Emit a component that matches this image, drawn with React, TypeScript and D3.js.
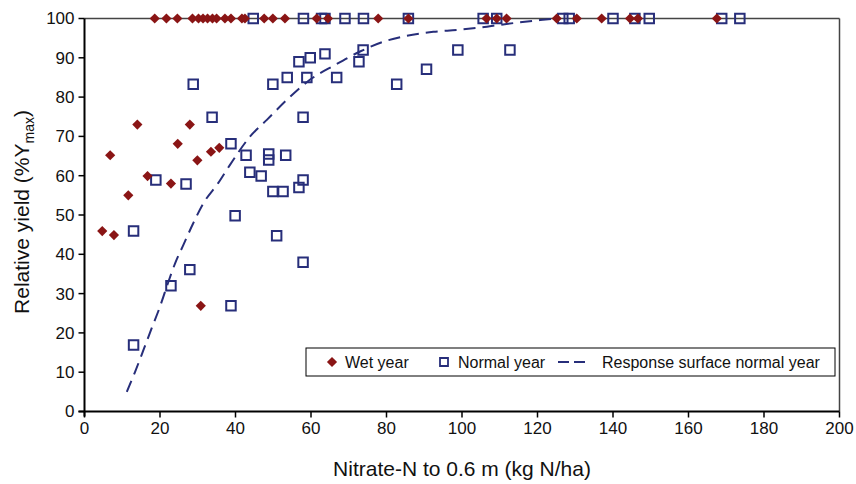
import React from "react";
import * as d3 from "d3";

const wetX = [4.7, 7.8, 6.8, 11.6, 14, 16.7, 22.9, 24.7, 27.9, 29.9, 30.8, 33.5, 35.7,
  18.6, 21.7, 24.6, 28.6, 30.2, 31.4, 32.6, 33.9, 35, 37.2, 38.8, 41.7, 42.5, 47.6, 49.9, 53.1,
  61.5, 64.5, 77.8, 85.8, 106.5, 109.2, 111.8, 125.1, 130.4, 137, 144.5, 146.6, 167.5];
const wetY = [45.9, 44.9, 65.2, 55, 73, 59.9, 58, 68.1, 73, 63.9, 26.9, 66.1, 67.1,
  100, 100, 100, 100, 100, 100, 100, 100, 100, 100, 100, 100, 100, 100, 100, 100,
  100, 100, 100, 100, 100, 100, 100, 100, 100, 100, 100, 100, 100];

const normalX = [13, 13, 18.9, 22.9, 26.9, 27.9, 28.8, 33.8, 38.8, 38.8, 39.9, 42.8, 43.8, 46.8,
  48.8, 48.8, 49.9, 49.9, 52.6, 50.9, 53.3, 53.7, 56.8, 56.8, 57.9, 57.9, 57.9, 58.9, 59.8,
  63.7, 66.8, 72.7, 73.8, 82.7, 90.6, 98.9, 112.7,
  44.7, 58, 62.8, 63.7, 69, 73.9, 85.8, 105.6, 109.2, 126.7, 128.4, 140, 145.8, 149.6, 168.8, 173.6];
const normalY = [16.9, 45.9, 58.9, 32, 57.9, 36.1, 83.3, 74.9, 26.9, 68.1, 49.8, 65.2, 60.9, 59.9,
  65.5, 64, 83.3, 56, 56, 44.7, 65.2, 85, 89, 57, 58.9, 74.9, 38, 85, 90,
  91, 85, 89, 92, 83.3, 87.1, 92, 92,
  100, 100, 100, 100, 100, 100, 100, 100, 100, 100, 100, 100, 100, 100, 100, 100];

const curveX = [11.2, 13.4, 15.6, 17.8, 20, 21.8, 24, 26.2, 28.8, 31.5, 35.4, 38.5, 43.8, 48.3,
  53.6, 59.7, 66.4, 73, 79.2, 85.4, 92.4, 98.6, 104.8, 110.9, 120.7, 125];
const curveY = [5, 10.1, 15.6, 21.2, 26.7, 31.8, 37.7, 42.4, 47.9, 53, 58.1, 62.7, 69.9, 74.2,
  79.3, 84.4, 88.2, 91.6, 94.1, 95.6, 96.6, 97.1, 97.7, 98.5, 99.6, 100];

const xTicks = [0, 20, 40, 60, 80, 100, 120, 140, 160, 180, 200];
const yTicks = [0, 10, 20, 30, 40, 50, 60, 70, 80, 90, 100];

const W = 856, H = 484;
const M = { left: 84.5, right: 16.5, top: 18.5, bottom: 72.5 };
const NAVY = "#272E7A";
const RED = "#8A1515";
const FONT = "'Liberation Sans', Arial, Helvetica, sans-serif";

export default function App() {
  const x = d3.scaleLinear().domain([0, 200]).range([M.left, W - M.right]);
  const y = d3.scaleLinear().domain([0, 100]).range([H - M.bottom, M.top]);
  const diamond = d3.symbol().type(d3.symbolSquare).size(52)()!;
  const square = d3.symbol().type(d3.symbolSquare).size(90)()!;
  const line = d3.line<number>().x((_, i) => x(curveX[i])).y((_, i) => y(curveY[i])).curve(d3.curveMonotoneX);
  const curvePath = line(curveX)!;
  const x0 = x(0), x1 = x(200), y0 = y(0), y1 = y(100);

  const legY = 362;
  return (
    <svg width={W} height={H} style={{ position: "absolute", left: 0, top: 0, background: "#fff" }} fontFamily={FONT}>
      <rect x={0} y={0} width={W} height={H} fill="#fff" />
      {/* frame top/right */}
      <line x1={x0} x2={x1} y1={y1} y2={y1} stroke="#444" strokeWidth={1.5} />
      <line x1={x1} x2={x1} y1={y1} y2={y0} stroke="#444" strokeWidth={1.5} />
      {/* normal year squares */}
      {normalX.map((v, i) => (
        <path key={"n" + i} d={square} transform={`translate(${x(v)},${y(normalY[i])})`} fill="none" stroke={NAVY} strokeWidth={2} />
      ))}
      {/* wet year diamonds */}
      {wetX.map((v, i) => (
        <path key={"w" + i} d={diamond} transform={`translate(${x(v)},${y(wetY[i])}) rotate(45)`} fill={RED} />
      ))}
      {/* response curve */}
      <path d={curvePath} fill="none" stroke={NAVY} strokeWidth={2} strokeDasharray="12,7" />
      {/* axes */}
      <line x1={x0} x2={x0} y1={y1} y2={y0 + 5} stroke="#000" strokeWidth={2} />
      <line x1={x0 - 6} x2={x1} y1={y0} y2={y0} stroke="#000" strokeWidth={2} />
      {yTicks.map((t) => (
        <g key={"yt" + t}>
          <line x1={x0 - 6} x2={x0} y1={y(t)} y2={y(t)} stroke="#000" strokeWidth={1.5} />
          <text x={x0 - 10} y={y(t)} dy="0.35em" textAnchor="end" fontSize={17} fill="#111">{t}</text>
        </g>
      ))}
      {xTicks.map((t) => (
        <g key={"xt" + t}>
          <line x1={x(t)} x2={x(t)} y1={y0} y2={y0 + 6} stroke="#000" strokeWidth={1.5} />
          <text x={x(t)} y={y0 + 22} textAnchor="middle" fontSize={17} fill="#111">{t}</text>
        </g>
      ))}
      {/* axis titles */}
      <text x={(x0 + x1) / 2} y={476} textAnchor="middle" fontSize={21} fill="#111">Nitrate-N to 0.6 m (kg N/ha)</text>
      <text transform={`translate(29,212) rotate(-90)`} textAnchor="middle" fontSize={21} fill="#111">
        Relative yield (%Y<tspan fontSize={14} dy="5">max</tspan><tspan dy="-5">)</tspan>
      </text>
      {/* legend */}
      <rect x={306} y={348} width={529} height={28} fill="#fff" stroke="#000" strokeWidth={1} />
      <path d={diamond} transform={`translate(332,${legY}) rotate(45)`} fill={RED} />
      <text x={345} y={legY} dy="0.35em" fontSize={16} fill="#111">Wet year</text>
      <path d={d3.symbol().type(d3.symbolSquare).size(64)()!} transform={`translate(444,${legY})`} fill="none" stroke={NAVY} strokeWidth={1.8} />
      <text x={458} y={legY} dy="0.35em" fontSize={16} fill="#111">Normal year</text>
      <line x1={558} x2={588} y1={legY} y2={legY} stroke={NAVY} strokeWidth={2.2} strokeDasharray="11,5" />
      <text x={602} y={legY} dy="0.35em" fontSize={16} fill="#111">Response surface normal year</text>
    </svg>
  );
}
